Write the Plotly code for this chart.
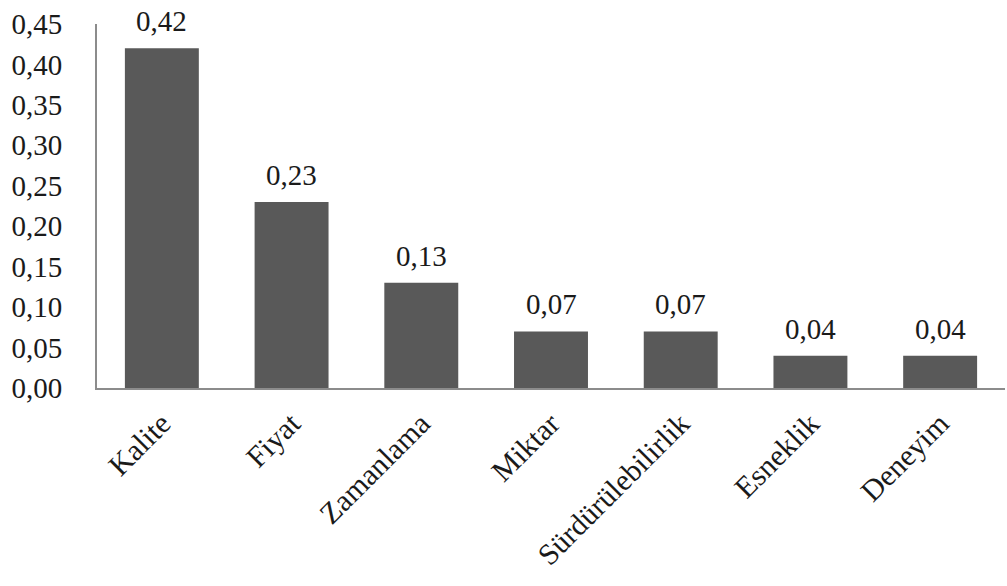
import plotly.graph_objects as go

categories = ["Kalite", "Fiyat", "Zamanlama", "Miktar", "Sürdürülebilirlik", "Esneklik", "Deneyim"]
weights = [0.42, 0.23, 0.13, 0.07, 0.07, 0.04, 0.04]
y_ticks = [0.00, 0.05, 0.10, 0.15, 0.20, 0.25, 0.30, 0.35, 0.40, 0.45]

font_family = "Liberation Serif, Times New Roman, serif"
text_color = "#1a1a1a"

fig = go.Figure(
    go.Bar(
        x=categories,
        y=weights,
        marker=dict(color="#595959", line=dict(width=0)),
        hoverinfo="x+y",
    )
)

# value labels above each bar
for cat, val in zip(categories, weights):
    fig.add_annotation(
        x=cat,
        y=val,
        text=f"{val:.2f}".replace(".", ","),
        showarrow=False,
        yanchor="bottom",
        yshift=9,
        font=dict(family=font_family, size=29, color=text_color),
    )

fig.update_layout(
    width=1007,
    height=586,
    margin=dict(l=97, r=2, t=24, b=198),
    paper_bgcolor="white",
    plot_bgcolor="white",
    separators=", ",
    bargap=0.43,
    showlegend=False,
    font=dict(family=font_family, size=29, color=text_color),
)

fig.update_yaxes(
    range=[0, 0.45],
    tickvals=y_ticks,
    tickformat=".2f",
    showgrid=False,
    zeroline=False,
    showline=True,
    linecolor="#8c8c8c",
    linewidth=2,
    ticks="",
    ticklabelstandoff=27,
    tickfont=dict(family=font_family, size=29, color=text_color),
)

fig.update_xaxes(
    showgrid=False,
    showline=True,
    linecolor="#8c8c8c",
    linewidth=2,
    ticks="",
    tickangle=-45,
    ticklabelstandoff=4,
    tickfont=dict(family=font_family, size=30, color=text_color),
)

fig.write_html("out.html")
